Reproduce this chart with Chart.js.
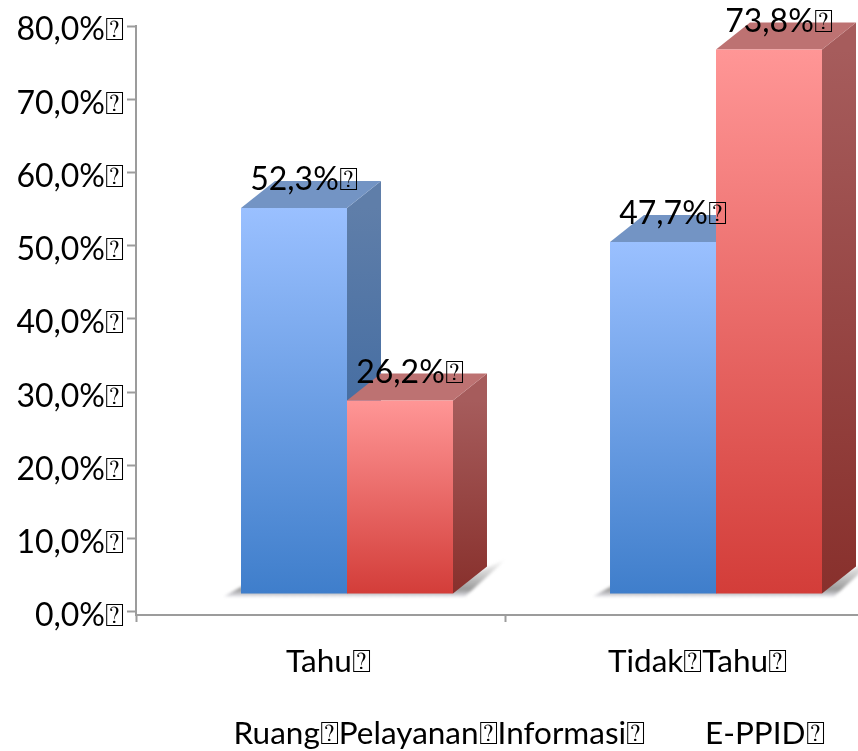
<!DOCTYPE html>
<html><head><meta charset="utf-8">
<style>html,body{margin:0;padding:0;background:#fff;overflow:hidden}#w{width:858px;height:751px}</style>
<script src="https://cdn.jsdelivr.net/npm/chart.js@4"></script></head>
<body><div id="w"><canvas id="c"></canvas></div>
<script>
const TOFU = '\u2370';
const categories = ['Tahu' + TOFU, 'Tidak' + TOFU + 'Tahu' + TOFU];
const groupLabels = ['Ruang' + TOFU + 'Pelayanan' + TOFU + 'Informasi' + TOFU, 'E-PPID' + TOFU];
const ruangPelayanan = [52.3, 47.7];
const ePPID = [26.2, 73.8];
const yTicks = [0, 10, 20, 30, 40, 50, 60, 70, 80];
const categoryTicks = [0, 0.5, 1, 1.5];
const groupTicks = [0.822, 1.704];

const FAMILY = 'Lato, Carlito, sans-serif';
const FONT = {family: FAMILY, size: 32};
const XFONT = {family: FAMILY, size: 31.5};
const DEPTH = {x: 34, y: -27};
const fmt = v => v.toFixed(1).replace('.', ',') + '%' + TOFU;
const toPts = arr => arr.map((y, i) => ({x: i, y}));

function grad(ctx, stops) {
  const chart = ctx.chart, s = chart.scales.y1;
  if (!s || !ctx.parsed) return stops[0];
  const a = s.getPixelForValue(ctx.parsed.y), b = s.getPixelForValue(0);
  if (!isFinite(a) || !isFinite(b)) return stops[0];
  const g = chart.ctx.createLinearGradient(0, a, 0, b);
  g.addColorStop(0, stops[0]); g.addColorStop(1, stops[1]);
  return g;
}
function poly(c, pts, fill) {
  c.beginPath(); pts.forEach((p, i) => i ? c.lineTo(p[0], p[1]) : c.moveTo(p[0], p[1]));
  c.closePath(); c.fillStyle = fill; c.fill();
}
const looks = [
  {top: '#7394c4', side: ['#5f7ea9', '#2f5f9c']},
  {top: '#bd7272', side: ['#a65c5c', '#88302c']}
];
const bars3d = {
  id: 'bars3d',
  beforeDatasetsDraw(chart) {
    const c = chart.ctx;
    c.save();
    const m0 = chart.getDatasetMeta(0).data, m1 = chart.getDatasetMeta(1).data;
    m0.forEach((b, i) => {
      const r = m1[i];
      const l = b.x - b.width / 2, rr = r.x + r.width / 2, y = b.base;
      const g = c.createLinearGradient(0, y - 34, 0, y + 4);
      g.addColorStop(0, 'rgba(110,110,110,0)'); g.addColorStop(0.8, 'rgba(110,110,110,.7)'); g.addColorStop(1, 'rgba(150,150,170,.2)');
      c.filter = 'blur(1.5px)';
      poly(c, [[l - 17, y + 3], [l + 6, y - 10], [rr, y - 10], [rr + DEPTH.x + 20, y + DEPTH.y - 8], [rr + 12, y + 3]], g);
      c.filter = 'none';
    });
    [0, 1].forEach(d => {
      const look = looks[d];
      chart.getDatasetMeta(d).data.forEach(b => {
        const l = b.x - b.width / 2, r = b.x + b.width / 2, t = b.y, u = b.base;
        const g = c.createLinearGradient(0, t, 0, u);
        g.addColorStop(0, look.side[0]); g.addColorStop(1, look.side[1]);
        poly(c, [[r, t], [r + DEPTH.x, t + DEPTH.y], [r + DEPTH.x, u + DEPTH.y], [r, u]], g);
        poly(c, [[l, t], [l + DEPTH.x, t + DEPTH.y], [r + DEPTH.x, t + DEPTH.y], [r, t]], look.top);
      });
    });
    c.restore();
  },
  afterDatasetsDraw(chart) {
    const c = chart.ctx;
    c.save();
    c.font = FONT.size + 'px ' + FONT.family;
    c.fillStyle = '#000'; c.textAlign = 'center'; c.textBaseline = 'middle';
    [0, 1].forEach(d => {
      chart.getDatasetMeta(d).data.forEach((b, i) => {
        c.fillText(fmt(chart.data.datasets[d].data[i].y), b.x + 10, b.y - 28);
      });
    });
    c.restore();
  }
};

new Chart(document.getElementById('c'), {
  type: 'bar',
  plugins: [bars3d],
  data: {datasets: [
    {label: groupLabels[0], data: toPts(ruangPelayanan), xAxisID: 'xBars', yAxisID: 'y1',
     backgroundColor: ctx => grad(ctx, ['#9ac0ff', '#3f7ecb']), borderWidth: 0,
     categoryPercentage: 0.5745, barPercentage: 1},
    {label: groupLabels[1], data: toPts(ePPID), xAxisID: 'xBars', yAxisID: 'y1',
     backgroundColor: ctx => grad(ctx, ['#ff9696', '#d33d39']), borderWidth: 0,
     categoryPercentage: 0.5745, barPercentage: 1}
  ]},
  options: {
    responsive: true, maintainAspectRatio: false, animation: false,
    layout: {padding: {top: 26, left: 0, right: 0, bottom: 0}},
    plugins: {legend: {display: false}, tooltip: {enabled: false}},
    scales: {
      xBars: {type: 'linear', axis: 'x', display: false, offset: false, min: -0.5718, max: 1.3848, grid: {offset: false},
              afterBuildTicks: s => { s.ticks = ruangPelayanan.map((_, value) => ({value})); }},
      y1: {type: 'linear', axis: 'y', display: false, min: -2.917, max: 77.0},
      y: {
        type: 'linear', axis: 'y', position: 'left', min: -0.41, max: 80,
        afterBuildTicks: s => { s.ticks = yTicks.map(value => ({value})); },
        afterFit: s => { s.width = 136; },
        border: {color: '#9c9c9c', width: 2},
        grid: {drawOnChartArea: false, tickColor: '#9c9c9c', tickLength: 9, tickWidth: 2},
        ticks: {color: '#000', font: FONT, padding: 3, labelOffset: 4, autoSkip: false, callback: v => fmt(v)}
      },
      x: {
        type: 'linear', axis: 'x', position: 'bottom', offset: false, min: 0, max: 1.9566,
        afterBuildTicks: s => { s.ticks = categoryTicks.map(value => ({value})); },
        afterFit: s => { s.height = 70; },
        border: {color: '#9c9c9c', width: 2},
        grid: {drawOnChartArea: false, offset: false, tickLength: 7, tickWidth: 2,
               tickColor: c => Number.isInteger(c.tick.value) ? '#9c9c9c' : 'rgba(0,0,0,0)'},
        ticks: {color: '#000', font: XFONT, padding: 21, maxRotation: 0, autoSkip: false, labelOffset: 8,
                callback: v => Number.isInteger(v) ? '' : categories[Math.floor(v)]}
      },
      x2: {
        type: 'linear', axis: 'x', position: 'bottom', offset: false, min: 0, max: 1.9566,
        afterBuildTicks: s => { s.ticks = groupTicks.map(value => ({value})); },
        afterFit: s => { s.height = 66; },
        border: {display: false},
        grid: {display: false, drawTicks: false, offset: false},
        ticks: {color: '#000', font: XFONT, padding: 30, maxRotation: 0, autoSkip: false,
                callback: (v, i) => groupLabels[i]}
      }
    }
  }
});
</script></body></html>
